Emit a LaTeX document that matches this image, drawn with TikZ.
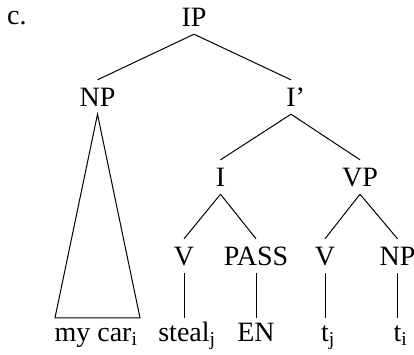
\documentclass[tikz,border=0pt]{standalone}
\usepackage{fontspec}
\setmainfont{Liberation Serif}
\begin{document}
\begin{tikzpicture}[x=1pt,y=-1pt,
  cat/.style={anchor=base,inner xsep=0pt,inner ysep=8pt,text height=18pt,text depth=0pt},
  leaf/.style={anchor=base,inner xsep=0pt,inner ysep=5pt,text height=18pt,text depth=0pt},
  branch/.style={line width=1pt}]
\useasboundingbox (0,0) rectangle (414,354);
\fontsize{28}{33}\selectfont
% example label
\node[anchor=base west,inner sep=0pt] (lbl) at (7,24) {c.};
% categories
\node[cat] (IP)  at (194,26) {IP};
\node[cat] (NP)  at (97.5,106) {NP};
\node[cat] (Ib)  at (291,106) {I\rlap{\textquoteright}};
\node[cat] (I)   at (220.5,186) {I};
\node[cat] (VP)  at (360,186) {VP};
\node[cat] (V1)  at (184,265) {V};
\node[cat] (PS)  at (256,265) {PASS};
\node[cat] (V2)  at (325,265) {V};
\node[cat] (NP2) at (397.5,265) {NP};
% terminals
\node[leaf] (mycar) at (96,341) {my car\textsubscript{i}};
\node[leaf] (steal) at (184,341) {\rlap{\hphantom{steal}\textsubscript{j}}steal};
\node[leaf] (EN)    at (256,341) {EN};
\node[leaf] (tj)    at (325,341) {\rlap{\hphantom{t}\textsubscript{j}}t};
\node[leaf] (ti)    at (397.5,341) {\rlap{\hphantom{t}\textsubscript{i}}t};
% branches
\draw[branch] (IP.south) -- (NP.north);
\draw[branch] (IP.south) -- (Ib.north);
\draw[branch] (Ib.south) -- (I.north);
\draw[branch] (Ib.south) -- (VP.north);
\draw[branch] (I.south) -- (V1.north);
\draw[branch] (I.south) -- (PS.north);
\draw[branch] (VP.south) -- (V2.north);
\draw[branch] (VP.south) -- (NP2.north);
\draw[branch] (V1.south) -- (steal.north);
\draw[branch] (PS.south) -- (EN.north);
\draw[branch] (V2.south) -- (tj.north);
\draw[branch] (NP2.south) -- (ti.north);
% triangle over the subject
\coordinate (triL) at ([xshift=-42.5pt]NP.south |- mycar.north);
\coordinate (triR) at ([xshift=42.5pt]NP.south |- mycar.north);
\draw[branch,line join=miter] (NP.south) -- (triR) -- (triL) -- cycle;
\end{tikzpicture}
\end{document}
